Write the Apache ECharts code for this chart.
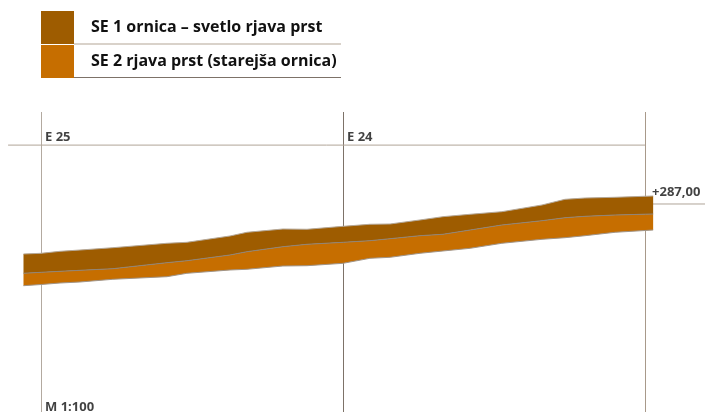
<!DOCTYPE html>
<html>
<head>
<meta charset="utf-8">
<style>html,body{margin:0;padding:0;background:#fff}#c{width:705px;height:412px}</style>
<script src="https://cdn.jsdelivr.net/npm/echarts@6/dist/echarts.min.js"></script>
</head>
<body>
<div id="c"></div>
<script>
// Stations along the section (m from E 25)
var stations = [-0.58,0,0.63,1.29,2.38,4.17,4.83,6.26,6.82,8.01,8.81,10,10.89,11.56,12.55,13.31,14.21,15.26,16.59,17.35,18.01,19.01,20.27];
// Elevation of the base of SE 2 (m)
var baseElevation = [284.295,284.334,284.384,284.417,284.507,284.593,284.705,284.815,284.838,284.947,284.957,285.036,285.202,285.235,285.368,285.444,285.533,285.699,285.831,285.884,285.950,286.063,286.139];
// Layer thicknesses (m)
var se2Thickness = [0.411,0.404,0.387,0.387,0.351,0.464,0.417,0.497,0.583,0.639,0.709,0.695,0.583,0.616,0.583,0.553,0.606,0.606,0.616,0.662,0.642,0.573,0.530];
var se1Thickness = [0.639,0.629,0.662,0.672,0.695,0.642,0.609,0.629,0.642,0.586,0.497,0.530,0.543,0.487,0.520,0.583,0.520,0.440,0.520,0.609,0.606,0.586,0.596];
var gridStations = [0,10,20];
var legendNames = ['SE 1 ornica – svetlo rjava prst','SE 2 rjava prst (starejša ornica)'];
var stationLabels = [[0,289.21,'E 25'],[10,289.21,'E 24'],[20.1,287.39,'+287,00'],[0,280.27,'M 1:100']];
var datumLine = [[-1.09,288.95],[20,288.95]];
var levelLine = [[20,287],[21.99,287]];

var FONT = '"Open Sans", sans-serif';
var se2Top = baseElevation.map(function(v,i){return v+se2Thickness[i];});
var se1Top = se2Top.map(function(v,i){return v+se1Thickness[i];});
function zip(v){return stations.map(function(s,i){return [s,v[i]];});}
function layer(name,lower,upper,color){
  return {name:name,type:'custom',z:2,silent:true,itemStyle:{color:color},
    data:stations.map(function(s,i){return [s,lower[i],upper[i]];}),
    encode:{x:0,y:[1,2]},
    renderItem:function(params,api){
      if(params.dataIndex!==0) return null;
      var pts=[],i;
      for(i=0;i<stations.length;i++) pts.push(api.coord([stations[i],upper[i]]));
      for(i=stations.length-1;i>=0;i--) pts.push(api.coord([stations[i],lower[i]]));
      return {type:'polygon',shape:{points:pts},style:{fill:color,stroke:null}};
    }};
}
function edge(name,v,color){
  return {name:name,type:'line',data:zip(v),symbol:'none',silent:true,z:3,lineStyle:{color:color,width:1}};
}
var chart = echarts.init(document.getElementById('c'),null,{renderer:'canvas'});
chart.setOption({
  animation:false,
  backgroundColor:'#fff',
  grid:{left:0,top:112,width:705,height:300,containLabel:false},
  xAxis:{type:'value',min:-1.358,max:21.987,
    axisLine:{show:false},
    axisTick:{show:false,customValues:gridStations},
    axisLabel:{show:false,customValues:gridStations},
    splitLine:{show:true,showMinLine:true,showMaxLine:true,lineStyle:{width:1,color:['#b3aaa0','#7d7268','#a8998a']}}},
  yAxis:{type:'value',min:280.113,max:290.046,show:false,splitLine:{show:false}},
  legend:{
    data:[legendNames[0],legendNames[1]],
    orient:'vertical',left:41,top:11,padding:0,itemWidth:33,itemHeight:33,itemGap:1,
    icon:'rect',selectedMode:false,
    textStyle:{fontFamily:FONT,fontWeight:'bold',fontSize:16,color:'#111',padding:[0,0,0,12]}
  },
  graphic:[
    {type:'line',shape:{x1:74,y1:44,x2:341,y2:44},style:{stroke:'#b3a595',lineWidth:1}},
    {type:'line',shape:{x1:74,y1:77.5,x2:341,y2:77.5},style:{stroke:'#7d7268',lineWidth:1}}
  ],
  series:[
    {name:'rule1',type:'line',data:datumLine,symbol:'none',silent:true,z:1,lineStyle:{color:'#b0a498',width:1}},
    {name:'rule2',type:'line',data:levelLine,symbol:'none',silent:true,z:1,lineStyle:{color:'#b0a498',width:1}},
    layer(legendNames[1],baseElevation,se2Top,'#c66e00'),
    layer(legendNames[0],se2Top,se1Top,'#9e5c00'),
    edge('edgeBase',baseElevation,'#a09488'),
    edge('edgeMid',se2Top,'#8f8478'),
    edge('edgeTop',se1Top,'#b5a898'),
    {name:'labels',type:'scatter',symbolSize:0,silent:true,z:5,
      data:stationLabels.map(function(d){return {value:[d[0],d[1]],name:d[2]};}),
      label:{show:true,position:'right',distance:4,formatter:'{b}',fontFamily:FONT,fontWeight:'bold',fontSize:13,color:'#111'}}
  ]
});
</script>
</body>
</html>
